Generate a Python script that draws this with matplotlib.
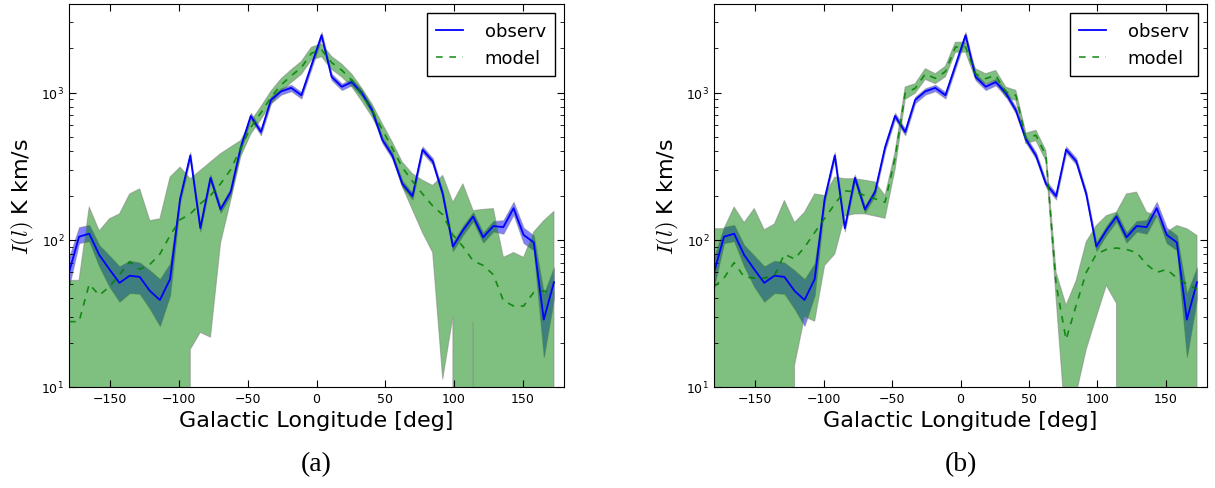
import numpy as np
import matplotlib
matplotlib.use("Agg")
import matplotlib.pyplot as plt

# ---------------- data ----------------
lon = [-180.0, -172.7, -165.3, -158.0, -150.6, -143.3, -135.9, -128.6, -121.2, -113.9,
       -106.5, -99.2, -91.8, -84.5, -77.1, -69.8, -62.4, -55.1, -47.8, -40.4,
       -33.1, -25.7, -18.4, -11.0, -3.7, 3.7, 11.0, 18.4, 25.7, 33.1,
       40.4, 47.8, 55.1, 62.4, 69.8, 77.1, 84.5, 91.8, 99.2, 106.5,
       113.9, 121.2, 128.6, 135.9, 143.3, 150.6, 158.0, 165.3, 172.7]

obs = [60, 105, 110, 79, 63, 51, 57, 56, 45, 39,
       54, 190, 374, 120, 264, 161, 212, 425, 694, 540,
       893, 1020, 1077, 960, 1530, 2455, 1280, 1096, 1180, 990,
       760, 480, 374, 240, 198, 410, 342, 205, 90, 116,
       144, 104, 124, 122, 164, 108, 96, 28.7, 51.5]
obs_lo = [48, 95, 98, 66, 48, 38, 43.5, 43, 34, 26,
          42, 180, 355, 114, 251, 153, 201, 404, 659, 513,
          848, 969, 1023, 912, 1454, 2332, 1216, 1041, 1121, 941,
          722, 456, 355, 228, 188, 390, 325, 195, 84, 108,
          134, 96, 114, 110, 148, 95, 85, 16, 40]
obs_hi = [76, 122, 126, 92, 78, 66, 72, 70, 62, 54,
          69, 200, 393, 126, 277, 169, 223, 446, 729, 567,
          938, 1071, 1131, 1008, 1607, 2578, 1344, 1151, 1239, 1040,
          798, 504, 393, 252, 208, 431, 359, 215, 96, 124,
          154, 112, 134, 136, 181, 121, 107, 43, 65]

# panel (a) model
mod_a = [27.8, 27.8, 50, 42, 48, 58, 71, 63, 68, 80,
         107, 137, 150, 176, 200, 240, 300, 420, 580, 730,
         930, 1130, 1300, 1480, 1850, 1950, 1600, 1420, 1214, 970,
         760, 560, 420, 310, 250, 205, 170, 148, 108, 90,
         72, 67, 58, 38.6, 35.5, 35.5, 44, 45, 43]
mod_a_lo = [0, 0, 0, 0, 0, 0, 0, 0, 0, 0,
            0, 0, 18, 23.5, 21.8, 95, 185, 367, 522, 657,
            837, 1017, 1170, 1332, 1665, 1755, 1440, 1278, 1093, 873,
            684, 504, 378, 230, 160, 112, 82, 11.3, 30, 0,
            27.5, 0, 0, 0, 0, 0, 0, 0, 0]
mod_a_hi = [53, 53, 167, 115, 139, 150, 205, 222, 135, 139,
            267, 312, 260, 296, 338, 385, 427, 473, 638, 803,
            1023, 1243, 1430, 1628, 2035, 2145, 1760, 1562, 1335, 1067,
            836, 616, 462, 337, 281, 254, 234, 274, 180, 240,
            158, 161, 163, 76, 82, 76, 113, 135, 156]

# panel (b) model
mod_b = [48, 55, 70, 56, 55, 55, 57, 80, 74, 89,
         112, 140, 175, 215, 212, 200, 190, 180, 360, 990,
         1070, 1340, 1250, 1390, 2040, 2040, 1340, 1245, 1310, 1010,
         960, 490, 513, 374, 50, 21, 36, 60, 80, 86,
         88, 86, 82, 68, 60, 63, 55, 50, 46]
mod_b_lo = [0, 0, 0, 0, 0, 0, 0, 0, 14, 30,
            28, 67, 80, 145, 150, 150, 145, 140, 300, 900,
            990, 1230, 1150, 1280, 1880, 1880, 1235, 1145, 1205, 930,
            885, 450, 472, 344, 40, 5, 9, 18, 30, 49,
            37, 0, 0, 0, 0, 0, 0, 0, 0]
mod_b_hi = [119, 119, 167, 131, 163, 117, 128, 185, 131, 154,
            205, 200, 267, 260, 260, 254, 247, 200, 394, 1092,
            1150, 1454, 1345, 1510, 2200, 2200, 1450, 1345, 1415, 1090,
            1037, 530, 555, 404, 60, 36, 53, 97, 125, 146,
            154, 205, 211, 154, 146, 113, 125, 119, 107]

xticks = [-150, -100, -50, 0, 50, 100, 150]
panel_labels = ["(a)", "(b)"]

# ---------------- figure ----------------
W, H = 1215, 489
fig = plt.figure(figsize=(W / 100, H / 100), dpi=100)

axes_px = [(69, 564), (714, 1207)]
top_px, bot_px = 5, 388

models = [(mod_a, mod_a_lo, mod_a_hi), (mod_b, mod_b_lo, mod_b_hi)]

for (l, r), (m, mlo, mhi), plab in zip(axes_px, models, panel_labels):
    ax = fig.add_axes([l / W, 1 - bot_px / H, (r - l) / W, (bot_px - top_px) / H])
    ax.set_yscale("log")
    ax.fill_between(lon, obs_lo, obs_hi, facecolor="blue", alpha=0.5,
                    edgecolor="gray", linewidth=0.8)
    ax.fill_between(lon, mlo, mhi, facecolor="green", alpha=0.5,
                    edgecolor="gray", linewidth=0.8)
    ax.plot(lon, obs, color="blue", lw=1.3, label="observ")
    ax.plot(lon, m, color="green", lw=1.2, ls=(0, (4, 4)), alpha=0.85,
            label="model")
    ax.set_xlim(-180, 180)
    ax.set_ylim(10, 4000)
    ax.set_xticks(xticks)
    ax.tick_params(which="both", direction="in", top=True, right=True,
                   labelsize=9)
    ax.tick_params(which="major", length=5)
    ax.tick_params(which="minor", length=3)
    ax.set_xlabel("Galactic Longitude [deg]", fontsize=16)
    ax.set_ylabel(r"$I(l)$ K km/s", fontsize=16, math_fontfamily="cm")
    leg = ax.legend(loc="upper right", fontsize=13, fancybox=False,
                    framealpha=1, edgecolor="black", handlelength=1.5,
                    handletextpad=1.2, borderpad=0.5)
    leg.get_frame().set_linewidth(1.0)
    fig.text((l + r) / 2 / W, 1 - 465 / H, plab, ha="center", va="center",
             fontsize=20, family="Liberation Serif")

fig.savefig("out.png", dpi=100)
